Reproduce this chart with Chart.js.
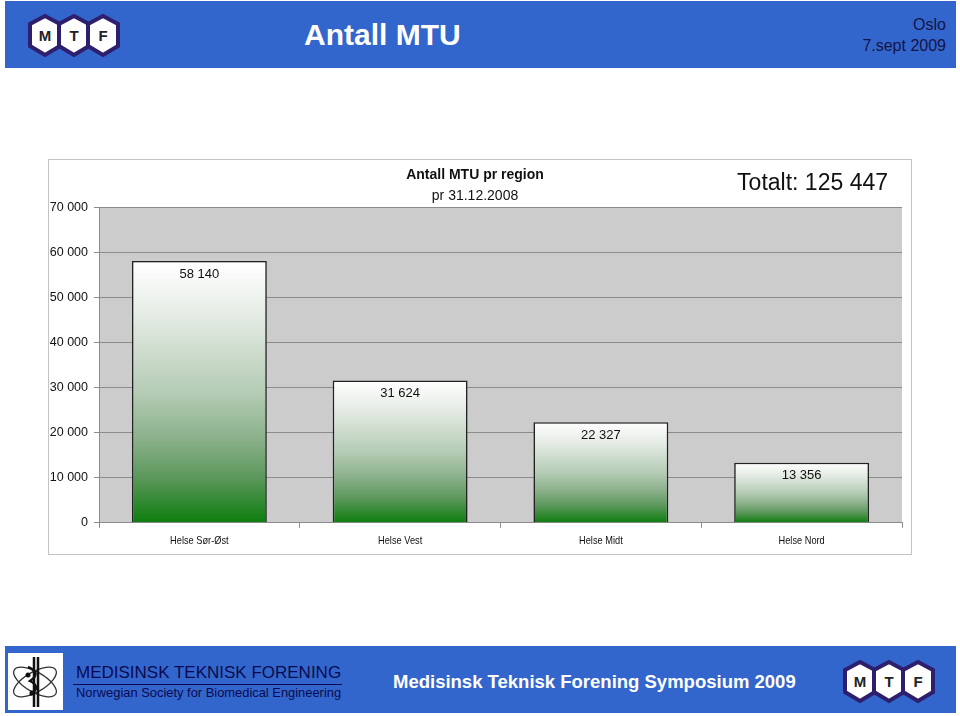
<!DOCTYPE html>
<html>
<head>
<meta charset="utf-8">
<script src="https://cdn.jsdelivr.net/npm/chart.js@4"></script>
<style>
  body { margin: 0; width: 960px; height: 716px; background: #fff; position: relative; overflow: hidden; font-family: "Liberation Sans", Arial, sans-serif; }
  .bar { position: absolute; left: 5px; width: 951px; background: #3366cc; }
  #head { top: 1px; height: 67px; }
  #foot { top: 646px; height: 67px; }
  #title { position: absolute; left: 304px; top: 18px; color: #fff; font-weight: bold; font-size: 30px; }
  #place { position: absolute; right: 14px; top: 14px; color: #141446; font-size: 16px; text-align: right; line-height: 21px; }
  #frame { position: absolute; left: 48px; top: 159px; width: 862px; height: 394px; border: 1px solid #c4c4c4; }
  #chartBox { position: absolute; left: 48px; top: 159px; width: 864px; height: 396px; }
  .logo { position: absolute; }
  #mtfTop { left: 28px; top: 14px; }
  #mtfBot { left: 843px; top: 660px; }
  #whiteBox { position: absolute; left: 8px; top: 653px; width: 55px; height: 57px; background: #fff; }
  #orgName { position: absolute; left: 76px; top: 663px; color: #0a0a50; font-size: 17px; }
  #orgLine { position: absolute; left: 73px; top: 684px; width: 269px; height: 1px; background: #0a0a50; }
  #orgSub { position: absolute; left: 76px; top: 685px; color: #0a0a50; font-size: 12.9px; }
  #sympo { position: absolute; left: 393px; top: 671px; color: #fff; font-weight: bold; font-size: 18.5px; }
</style>
</head>
<body>
<div class="bar" id="head"></div>
<div class="bar" id="foot"></div>

<svg class="logo" id="mtfTop" width="92" height="44" viewBox="0 0 92 44">
  <g font-family="Liberation Sans, Arial" font-weight="bold" font-size="15" text-anchor="middle">
    <polygon points="17,2 32,10 32,32 17,41 2,32 2,10" fill="#fff" stroke="#2e1f6e" stroke-width="4"/>
    <text x="17" y="27" fill="#222">M</text>
    <polygon points="46,2 61,10 61,32 46,41 31,32 31,10" fill="#fff" stroke="#2e1f6e" stroke-width="4"/>
    <text x="46" y="27" fill="#222">T</text>
    <polygon points="75,2 90,10 90,32 75,41 60,32 60,10" fill="#fff" stroke="#2e1f6e" stroke-width="4"/>
    <text x="75" y="27" fill="#222">F</text>
  </g>
</svg>
<div id="title">Antall MTU</div>
<div id="place">Oslo<br>7.sept 2009</div>

<div id="frame"></div>
<div id="chartBox"><canvas id="chartCanvas"></canvas></div>

<div id="whiteBox">
  <svg width="55" height="57" viewBox="0 0 55 57">
    <g fill="none" stroke="#333" stroke-width="1.3">
      <ellipse cx="27" cy="29" rx="24" ry="10" transform="rotate(30 27 29)"/>
      <ellipse cx="27" cy="29" rx="24" ry="10" transform="rotate(-30 27 29)"/>
    </g>
    <path d="M26 4 L26 54 M30 4 L30 54" stroke="#111" stroke-width="2.5"/>
    <path d="M20 14 Q34 20 22 28 Q34 34 22 42" stroke="#111" stroke-width="2.5" fill="none"/>
    <circle cx="20" cy="22" r="2.5" fill="#111"/>
    <circle cx="24" cy="40" r="2.5" fill="#111"/>
  </svg>
</div>
<div id="orgName">MEDISINSK TEKNISK FORENING</div>
<div id="orgLine"></div>
<div id="orgSub">Norwegian Society for Biomedical Engineering</div>
<div id="sympo">Medisinsk Teknisk Forening Symposium 2009</div>
<svg class="logo" id="mtfBot" width="92" height="44" viewBox="0 0 92 44">
  <g font-family="Liberation Sans, Arial" font-weight="bold" font-size="15" text-anchor="middle">
    <polygon points="17,2 32,10 32,32 17,41 2,32 2,10" fill="#fff" stroke="#2e1f6e" stroke-width="4"/>
    <text x="17" y="27" fill="#222">M</text>
    <polygon points="46,2 61,10 61,32 46,41 31,32 31,10" fill="#fff" stroke="#2e1f6e" stroke-width="4"/>
    <text x="46" y="27" fill="#222">T</text>
    <polygon points="75,2 90,10 90,32 75,41 60,32 60,10" fill="#fff" stroke="#2e1f6e" stroke-width="4"/>
    <text x="75" y="27" fill="#222">F</text>
  </g>
</svg>

<script>
// data
const regions = ["Helse Sør-Øst", "Helse Vest", "Helse Midt", "Helse Nord"];
const antall = [58140, 31624, 22327, 13356];
const totalText = "Totalt: 125 447";
const yTicks = [0, 10000, 20000, 30000, 40000, 50000, 60000, 70000];

function spaced(v) {
  return String(v).replace(/\B(?=(\d{3})+(?!\d))/g, ' ');
}

// grey plot background, "Totalt" text and narrow category labels
const plotBg = {
  id: 'plotBg',
  beforeDraw(chart) {
    const a = chart.chartArea, c = chart.ctx;
    c.save();
    c.fillStyle = '#cccccc';
    c.fillRect(a.left, a.top, a.right - a.left, a.bottom - a.top);
    c.restore();
  },
  afterDraw(chart) {
    const c = chart.ctx;
    c.save();
    c.font = '23px "Liberation Sans", Arial';
    c.fillStyle = '#111';
    c.textAlign = 'right';
    c.textBaseline = 'middle';
    c.fillText(totalText, chart.chartArea.right - 14, 25);

    // category names, squeezed like the original narrow font
    const x = chart.scales.x;
    c.font = '11px "Liberation Sans", Arial';
    c.textAlign = 'center';
    regions.forEach((r, i) => {
      c.save();
      c.translate(x.getPixelForValue(i), chart.chartArea.bottom + 18);
      c.scale(0.84, 1);
      c.fillText(r, 0, 0);
      c.restore();
    });
    c.restore();
  }
};

// value labels inside the top of every bar
const barLabels = {
  id: 'barLabels',
  afterDatasetsDraw(chart) {
    const c = chart.ctx;
    const meta = chart.getDatasetMeta(0);
    c.save();
    c.font = '13px "Liberation Sans", Arial';
    c.fillStyle = '#111';
    c.textAlign = 'center';
    c.textBaseline = 'middle';
    meta.data.forEach((bar, i) => {
      c.fillText(spaced(antall[i]), bar.x, bar.y + 13);
    });
    c.restore();
  }
};

function barGradient(ctx) {
  const chart = ctx.chart;
  if (!chart.chartArea || ctx.dataIndex === undefined) return '#5a975a';
  const y = chart.scales.y;
  const top = y.getPixelForValue(antall[ctx.dataIndex]);
  const bottom = y.getPixelForValue(0);
  const g = chart.ctx.createLinearGradient(0, top, 0, bottom);
  g.addColorStop(0, '#ffffff');
  g.addColorStop(0.2, '#e6ece6');
  g.addColorStop(0.5, '#b5ccb5');
  g.addColorStop(0.67, '#8db28d');
  g.addColorStop(0.83, '#5b975b');
  g.addColorStop(1, '#0d7d0d');
  return g;
}

let ctx = document.querySelector("#chartCanvas");
let graph = new Chart(ctx, {
  type: "bar",
  data: {
    labels: regions,
    datasets: [{
      data: antall,
      backgroundColor: barGradient,
      borderColor: '#222',
      borderWidth: 1.6,
      categoryPercentage: 1,
      barPercentage: 0.672
    }]
  },
  options: {
    responsive: true,
    maintainAspectRatio: false,
    animation: false,
    layout: { padding: { left: 0, right: 10, top: 0, bottom: 0 } },
    plugins: {
      legend: { display: false },
      tooltip: { enabled: false },
      title: {
        display: true,
        text: "Antall MTU pr region",
        color: '#111',
        font: { family: '"Liberation Sans", Arial', size: 14, weight: 'bold' },
        padding: { top: 8, bottom: 2 }
      },
      subtitle: {
        display: true,
        text: "pr 31.12.2008",
        color: '#111',
        font: { family: '"Liberation Sans", Arial', size: 14 },
        padding: { top: 2, bottom: 3 }
      }
    },
    scales: {
      x: {
        grid: { display: true, drawOnChartArea: false, offset: true, color: '#8c8c8c', tickLength: 5 },
        border: { display: true, color: '#8c8c8c' },
        ticks: {
          color: 'rgba(0,0,0,0)',
          padding: 7,
          font: { family: '"Liberation Sans", Arial', size: 11 }
        }
      },
      y: {
        min: 0,
        max: 70000,
        afterBuildTicks(scale) { scale.ticks = yTicks.map(v => ({ value: v })); },
        afterFit(scale) { scale.width = 51; },
        grid: { color: '#8c8c8c', tickLength: 5 },
        border: { display: true, color: '#8c8c8c' },
        ticks: {
          color: '#111',
          padding: 6,
          font: { family: '"Liberation Sans", Arial', size: 12.5 },
          callback: v => spaced(v)
        }
      }
    }
  },
  plugins: [plotBg, barLabels]
});
</script>
</body>
</html>
